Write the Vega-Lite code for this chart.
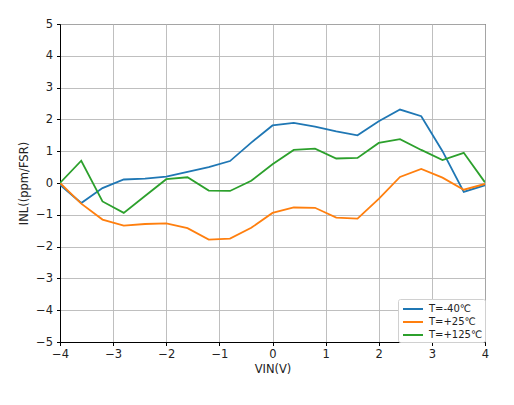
{
  "$schema": "https://vega.github.io/schema/vega-lite/v6.json",
  "width": 425,
  "height": 318,
  "autosize": {"type": "none"},
  "padding": {"left": 60, "top": 24, "right": 29, "bottom": 63},
  "background": "white",
  "config": {
    "font": "DejaVu Sans",
    "view": {"stroke": "black", "strokeWidth": 1},
    "axis": {
      "labelFont": "DejaVu Sans",
      "titleFont": "DejaVu Sans",
      "labelFontSize": 11.5,
      "titleFontSize": 11.5,
      "labelColor": "#222",
      "titleColor": "#222",
      "titleFontWeight": "normal",
      "domainColor": "black",
      "tickColor": "black",
      "tickSize": 3.5,
      "gridColor": "#b8b8b8",
      "gridWidth": 0.9
    }
  },
  "data": {
    "values": [
      {"VIN": -4.0, "INL": -0.06, "T": "T=-40℃"},
      {"VIN": -3.6, "INL": -0.63, "T": "T=-40℃"},
      {"VIN": -3.2, "INL": -0.16, "T": "T=-40℃"},
      {"VIN": -2.8, "INL": 0.11, "T": "T=-40℃"},
      {"VIN": -2.4, "INL": 0.14, "T": "T=-40℃"},
      {"VIN": -2.0, "INL": 0.2, "T": "T=-40℃"},
      {"VIN": -1.6, "INL": 0.35, "T": "T=-40℃"},
      {"VIN": -1.2, "INL": 0.5, "T": "T=-40℃"},
      {"VIN": -0.8, "INL": 0.69, "T": "T=-40℃"},
      {"VIN": -0.4, "INL": 1.27, "T": "T=-40℃"},
      {"VIN": 0.0, "INL": 1.81, "T": "T=-40℃"},
      {"VIN": 0.4, "INL": 1.89, "T": "T=-40℃"},
      {"VIN": 0.8, "INL": 1.77, "T": "T=-40℃"},
      {"VIN": 1.2, "INL": 1.62, "T": "T=-40℃"},
      {"VIN": 1.6, "INL": 1.5, "T": "T=-40℃"},
      {"VIN": 2.0, "INL": 1.94, "T": "T=-40℃"},
      {"VIN": 2.4, "INL": 2.31, "T": "T=-40℃"},
      {"VIN": 2.8, "INL": 2.1, "T": "T=-40℃"},
      {"VIN": 3.2, "INL": 1.0, "T": "T=-40℃"},
      {"VIN": 3.6, "INL": -0.28, "T": "T=-40℃"},
      {"VIN": 4.0, "INL": -0.07, "T": "T=-40℃"},
      {"VIN": -4.0, "INL": 0.0, "T": "T=+25℃"},
      {"VIN": -3.6, "INL": -0.65, "T": "T=+25℃"},
      {"VIN": -3.2, "INL": -1.15, "T": "T=+25℃"},
      {"VIN": -2.8, "INL": -1.34, "T": "T=+25℃"},
      {"VIN": -2.4, "INL": -1.29, "T": "T=+25℃"},
      {"VIN": -2.0, "INL": -1.27, "T": "T=+25℃"},
      {"VIN": -1.6, "INL": -1.42, "T": "T=+25℃"},
      {"VIN": -1.2, "INL": -1.78, "T": "T=+25℃"},
      {"VIN": -0.8, "INL": -1.75, "T": "T=+25℃"},
      {"VIN": -0.4, "INL": -1.41, "T": "T=+25℃"},
      {"VIN": 0.0, "INL": -0.94, "T": "T=+25℃"},
      {"VIN": 0.4, "INL": -0.77, "T": "T=+25℃"},
      {"VIN": 0.8, "INL": -0.78, "T": "T=+25℃"},
      {"VIN": 1.2, "INL": -1.09, "T": "T=+25℃"},
      {"VIN": 1.6, "INL": -1.12, "T": "T=+25℃"},
      {"VIN": 2.0, "INL": -0.5, "T": "T=+25℃"},
      {"VIN": 2.4, "INL": 0.19, "T": "T=+25℃"},
      {"VIN": 2.8, "INL": 0.44, "T": "T=+25℃"},
      {"VIN": 3.2, "INL": 0.17, "T": "T=+25℃"},
      {"VIN": 3.6, "INL": -0.21, "T": "T=+25℃"},
      {"VIN": 4.0, "INL": -0.03, "T": "T=+25℃"},
      {"VIN": -4.0, "INL": 0.0, "T": "T=+125℃"},
      {"VIN": -3.6, "INL": 0.7, "T": "T=+125℃"},
      {"VIN": -3.2, "INL": -0.58, "T": "T=+125℃"},
      {"VIN": -2.8, "INL": -0.94, "T": "T=+125℃"},
      {"VIN": -2.4, "INL": -0.41, "T": "T=+125℃"},
      {"VIN": -2.0, "INL": 0.12, "T": "T=+125℃"},
      {"VIN": -1.6, "INL": 0.18, "T": "T=+125℃"},
      {"VIN": -1.2, "INL": -0.24, "T": "T=+125℃"},
      {"VIN": -0.8, "INL": -0.25, "T": "T=+125℃"},
      {"VIN": -0.4, "INL": 0.07, "T": "T=+125℃"},
      {"VIN": 0.0, "INL": 0.59, "T": "T=+125℃"},
      {"VIN": 0.4, "INL": 1.04, "T": "T=+125℃"},
      {"VIN": 0.8, "INL": 1.08, "T": "T=+125℃"},
      {"VIN": 1.2, "INL": 0.77, "T": "T=+125℃"},
      {"VIN": 1.6, "INL": 0.79, "T": "T=+125℃"},
      {"VIN": 2.0, "INL": 1.26, "T": "T=+125℃"},
      {"VIN": 2.4, "INL": 1.38, "T": "T=+125℃"},
      {"VIN": 2.8, "INL": 1.04, "T": "T=+125℃"},
      {"VIN": 3.2, "INL": 0.72, "T": "T=+125℃"},
      {"VIN": 3.6, "INL": 0.95, "T": "T=+125℃"},
      {"VIN": 4.0, "INL": 0.02, "T": "T=+125℃"}
    ]
  },
  "mark": {"type": "line", "strokeWidth": 1.8, "clip": true},
  "encoding": {
    "x": {
      "field": "VIN",
      "type": "quantitative",
      "scale": {"domain": [-4, 4], "nice": false, "zero": false},
      "axis": {
        "title": "VIN(V)",
        "values": [-4, -3, -2, -1, 0, 1, 2, 3, 4],
        "format": "d",
        "labelPadding": 3,
        "titlePadding": 3,
        "labelFlush": false
      }
    },
    "y": {
      "field": "INL",
      "type": "quantitative",
      "scale": {"domain": [-5, 5], "nice": false, "zero": false},
      "axis": {
        "title": "INL((ppm/FSR)",
        "values": [-5, -4, -3, -2, -1, 0, 1, 2, 3, 4, 5],
        "format": "d",
        "labelPadding": 4,
        "titlePadding": 6,
        "labelFlush": false
      }
    },
    "color": {
      "field": "T",
      "type": "nominal",
      "sort": ["T=-40℃", "T=+25℃", "T=+125℃"],
      "scale": {"domain": ["T=-40℃", "T=+25℃", "T=+125℃"], "range": ["#1f77b4", "#ff7f0e", "#2ca02c"]},
      "legend": {
        "title": null,
        "orient": "bottom-right",
        "offset": 0,
        "padding": 2,
        "fillColor": "white",
        "strokeColor": "#d0d0d0",
        "cornerRadius": 2,
        "symbolType": "M-1.43,0H1.43",
        "symbolSize": 196,
        "symbolStrokeWidth": 2,
        "symbolFillColor": "transparent",
        "symbolOffset": 5,
        "labelFont": "DejaVu Sans",
        "labelFontSize": 10,
        "labelColor": "#222",
        "labelOffset": 8,
        "rowPadding": 0
      }
    }
  }
}
